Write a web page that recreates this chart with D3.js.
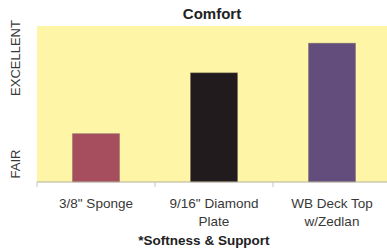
<!DOCTYPE html>
<html>
<head>
<meta charset="utf-8">
<script src="https://cdn.jsdelivr.net/npm/d3@7"></script>
<style>
body { margin: 0; background: #fff; }
svg { display: block; font-family: "Liberation Sans", Arial, sans-serif; }
</style>
</head>
<body>
<div id="chart"></div>
<script>
var categories = ["3/8\" Sponge", "9/16\" Diamond|Plate", "WB Deck Top|w/Zedlan"];
var values = [31, 70, 89];
var colors = ["#a64d5e", "#221b1d", "#634d7d"];
var yLabels = ["FAIR", "EXCELLENT"];

var margin = {top: 26, right: -4, bottom: 69, left: 37};
var width = 387 - margin.left - margin.right;
var height = 251 - margin.top - margin.bottom;

var svg = d3.select("#chart").append("svg").attr("width", 387).attr("height", 251);
var g = svg.append("g").attr("transform", "translate(" + margin.left + "," + margin.top + ")");

var x = d3.scaleBand().range([0, width]).paddingInner(0.6).paddingOuter(0.3).domain(categories);
var y = d3.scaleLinear().range([height, 0]).domain([0, 100]);

// plot background
g.append("rect").attr("x", 0).attr("y", 0).attr("width", width).attr("height", height).attr("fill", "#fff5a6");

g.selectAll(".bar").data(values).enter().append("rect")
    .attr("x", function(d, i) { return x(categories[i]); })
    .attr("y", function(d) { return y(d); })
    .attr("width", x.bandwidth())
    .attr("height", function(d) { return height - y(d); })
    .attr("fill", function(d, i) { return colors[i]; })
    .attr("stroke", "#8a7f6a").attr("stroke-opacity", 0.5).attr("stroke-width", 0.8);

// x axis line with ticks at band edges
var step = x.step();
g.append("line").attr("x1", 0).attr("x2", width).attr("y1", height).attr("y2", height)
    .attr("stroke", "#b5b0a0").attr("stroke-width", 1.2);
g.selectAll(".tick").data(categories).enter().append("line")
    .attr("x1", function(d) { return x(d) - (step - x.bandwidth()) / 2; })
    .attr("x2", function(d) { return x(d) - (step - x.bandwidth()) / 2; })
    .attr("y1", height).attr("y2", height + 5)
    .attr("stroke", "#c8c4b8").attr("stroke-width", 1);

// category labels
g.selectAll(".lab").data(categories).enter().append("text")
    .attr("text-anchor", "middle")
    .attr("x", function(d) { return x(d) + x.bandwidth() / 2; })
    .attr("y", height + 26)
    .attr("font-size", 13.5).attr("fill", "#383838")
    .each(function(d) {
        var parts = d.split("|");
        var t = d3.select(this);
        parts.forEach(function(p, i) {
            t.append("tspan").attr("x", x(d) + x.bandwidth() / 2).attr("dy", i == 0 ? 0 : 18).text(p);
        });
    });

// title
svg.append("text").attr("text-anchor", "middle").attr("x", 212).attr("y", 19)
    .attr("font-size", 15).attr("font-weight", "bold").attr("fill", "#222").text("Comfort");

// y labels
svg.append("text").attr("text-anchor", "middle").attr("transform", "translate(20,164) rotate(-90)")
    .attr("font-size", 13).attr("fill", "#383838").text(yLabels[0]);
svg.append("text").attr("text-anchor", "middle").attr("transform", "translate(20,58) rotate(-90)")
    .attr("font-size", 13).attr("fill", "#383838").text(yLabels[1]);

// footnote
svg.append("text").attr("text-anchor", "middle").attr("x", 204).attr("y", 245)
    .attr("font-size", 13.5).attr("font-weight", "bold").attr("fill", "#222").text("*Softness & Support");
</script>
</body>
</html>
